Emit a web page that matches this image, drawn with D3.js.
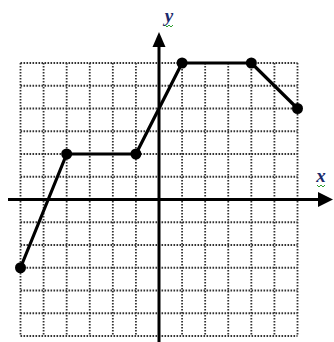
<!DOCTYPE html>
<html>
<head>
<meta charset="utf-8">
<script src="https://cdn.jsdelivr.net/npm/d3@7"></script>
<style>
  html, body { margin: 0; padding: 0; background: #fff; }
  svg { display: block; }
</style>
</head>
<body>
<svg id="chart" width="334" height="342"></svg>
<script>
// Data
const pointX = [-6, -4, -1, 1, 4, 6];
const pointY = [-3, 2, 2, 6, 6, 4];
const gridTicks = [-6, -5, -4, -3, -2, -1, 0, 1, 2, 3, 4, 5, 6];
const axisLabels = ["x", "y"];

const svg = d3.select("#chart");
const x = d3.scaleLinear().domain([-6, 6]).range([20.5, 297.5]);
const y = d3.scaleLinear().domain([-6, 6]).range([336, 63]);

// Grid (dotted)
const grid = svg.append("g")
  .attr("stroke", "#333")
  .attr("stroke-width", 1.8)
  .attr("stroke-dasharray", "1.6,1.4");
grid.selectAll("line.v").data(gridTicks).enter().append("line")
  .attr("x1", d => x(d)).attr("x2", d => x(d))
  .attr("y1", y(6)).attr("y2", y(-6));
grid.selectAll("line.h").data(gridTicks).enter().append("line")
  .attr("y1", d => y(d)).attr("y2", d => y(d))
  .attr("x1", x(-6)).attr("x2", x(6));

// Axes
const axes = svg.append("g").attr("stroke", "#000").attr("stroke-width", 3);
axes.append("line").attr("x1", 8).attr("x2", 320).attr("y1", y(0)).attr("y2", y(0));
axes.append("line").attr("x1", x(0)).attr("x2", x(0)).attr("y1", 342).attr("y2", 45);
svg.append("path")
  .attr("d", `M333,${y(0)} L318,${y(0) - 7.5} L318,${y(0) + 7.5} Z`)
  .attr("fill", "#000");
svg.append("path")
  .attr("d", `M${x(0)},32 L${x(0) - 6.5},47 L${x(0) + 6.5},47 Z`)
  .attr("fill", "#000");

// Polyline
const pts = pointX.map((d, i) => [d, pointY[i]]);
svg.append("path")
  .datum(pts)
  .attr("fill", "none")
  .attr("stroke", "#000")
  .attr("stroke-width", 3.2)
  .attr("stroke-linejoin", "round")
  .attr("d", d3.line().x(d => x(d[0])).y(d => y(d[1])));
svg.selectAll("circle.pt").data(pts).enter().append("circle")
  .attr("cx", d => x(d[0])).attr("cy", d => y(d[1]))
  .attr("r", 5.5).attr("fill", "#000");

// Labels
svg.append("text").text(axisLabels[0])
  .attr("x", 321).attr("y", 182)
  .attr("text-anchor", "middle")
  .attr("font-family", "Liberation Serif, serif")
  .attr("font-style", "italic")
  .attr("font-weight", "bold")
  .attr("font-size", 19)
  .attr("fill", "#1a2a6c");
svg.append("text").text(axisLabels[1])
  .attr("x", 169).attr("y", 22)
  .attr("text-anchor", "middle")
  .attr("font-family", "Liberation Serif, serif")
  .attr("font-style", "italic")
  .attr("font-weight", "bold")
  .attr("font-size", 19)
  .attr("fill", "#1a2a6c");
// spell-check squiggles
const squig = (cx, cy) => svg.append("path")
  .attr("d", `M${cx-4},${cy} l2,2 l2,-2 l2,2 l2,-2`)
  .attr("fill", "none").attr("stroke", "#2e9e2e").attr("stroke-width", 1);
squig(321, 185);
squig(169, 25);
</script>
</body>
</html>
